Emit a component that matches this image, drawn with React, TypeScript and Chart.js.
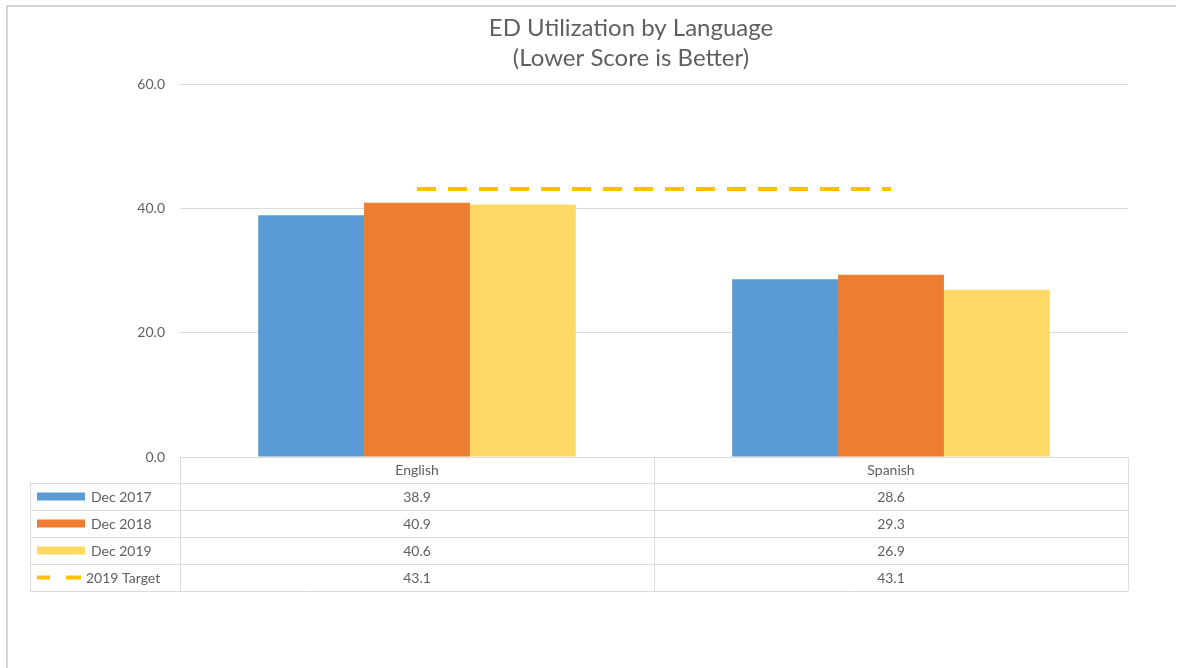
import React, { useEffect, useRef } from "react";
import { Chart, registerables } from "chart.js";

Chart.register(...registerables);

// Chart values
const categories = ["English", "Spanish"];
const dec2017 = [38.9, 28.6];
const dec2018 = [40.9, 29.3];
const dec2019 = [40.6, 26.9];
const target2019 = [43.1, 43.1];
const seriesNames = ["Dec 2017", "Dec 2018", "Dec 2019", "2019 Target"];
const titleLines = ["ED Utilization by Language", "(Lower Score is Better)"];
const yMin = 0;
const yMax = 60;
const yStep = 20;

const FONT = "Lato, 'Open Sans', sans-serif";
const TEXT = "#5f5f5f";
const RULE = "#dcdcdc";
const BLUE = "#5B9BD5";
const ORANGE = "#ED7D31";
const YELLOW = "#FFD966";
const GOLD = "#FFC000";

// Frame lines around the chart object
const framePlugin = {
  id: "frame",
  beforeDraw(chart: any) {
    const ctx = chart.ctx;
    ctx.save();
    ctx.fillStyle = "#ffffff";
    ctx.fillRect(0, 0, chart.width, chart.height);
    ctx.fillStyle = "#d4d4d4";
    ctx.fillRect(6, 5, chart.width - 11, 2);
    ctx.fillRect(6, 5, 2, chart.height - 5);
    ctx.restore();
  },
};

// Two-line title centred over the plot
const titlePlugin = {
  id: "twoLineTitle",
  afterDraw(chart: any) {
    const ctx = chart.ctx;
    ctx.save();
    ctx.fillStyle = TEXT;
    ctx.font = `24px ${FONT}`;
    ctx.textAlign = "center";
    ctx.textBaseline = "middle";
    titleLines.forEach((line, i) => ctx.fillText(line, 631, 28 + i * 30));
    ctx.restore();
  },
};

// Data table under the category axis, with legend keys in the first column
const dataTablePlugin = {
  id: "dataTable",
  afterDraw(chart: any) {
    const ctx = chart.ctx;
    const area = chart.chartArea;
    const xScale = chart.scales.x;
    const n = categories.length;
    const colW = (area.right - area.left) / n;
    const headerH = 26;
    const rowH = 27;
    const top = area.bottom;
    const rowsTop = top + headerH;
    const bottom = rowsTop + rowH * seriesNames.length;
    const legendLeft = 30;
    const rows = [dec2017, dec2018, dec2019, target2019];

    ctx.save();
    ctx.strokeStyle = RULE;
    ctx.lineWidth = 1;
    const hLine = (x1: number, x2: number, y: number) => {
      ctx.beginPath();
      ctx.moveTo(x1, Math.round(y) + 0.5);
      ctx.lineTo(x2, Math.round(y) + 0.5);
      ctx.stroke();
    };
    const vLine = (x: number, y1: number, y2: number) => {
      ctx.beginPath();
      ctx.moveTo(Math.round(x) + 0.5, y1);
      ctx.lineTo(Math.round(x) + 0.5, y2);
      ctx.stroke();
    };

    for (let i = 0; i <= seriesNames.length; i++) {
      hLine(legendLeft, area.right, rowsTop + i * rowH);
    }
    for (let c = 0; c <= n; c++) vLine(area.left + c * colW, top, bottom);
    vLine(legendLeft, rowsTop, bottom);

    ctx.fillStyle = TEXT;
    ctx.font = `14px ${FONT}`;
    ctx.textAlign = "center";
    ctx.textBaseline = "middle";
    categories.forEach((cat, c) => {
      const cx = xScale.getPixelForValue(c);
      ctx.fillText(cat, cx, top + headerH / 2);
      rows.forEach((vals, r) => {
        ctx.fillText(vals[c].toFixed(1), cx, rowsTop + r * rowH + rowH / 2 + 1);
      });
    });

    // Legend keys
    const keyColors = [BLUE, ORANGE, YELLOW];
    seriesNames.forEach((name, r) => {
      const cy = rowsTop + r * rowH + rowH / 2;
      if (r < keyColors.length) {
        ctx.fillStyle = keyColors[r];
        ctx.fillRect(37, cy - 4, 48, 8);
      } else {
        ctx.fillStyle = GOLD;
        ctx.fillRect(37, cy - 2, 13, 4);
        ctx.fillRect(66, cy - 2, 15, 4);
      }
      ctx.fillStyle = TEXT;
      ctx.textAlign = "left";
      ctx.fillText(name, r < keyColors.length ? 91 : 86, cy + 1);
    });
    ctx.restore();
  },
};

export default function App() {
  const canvasRef = useRef<HTMLCanvasElement | null>(null);

  useEffect(() => {
    if (!canvasRef.current) return;
    const barCommon = {
      type: "bar" as const,
      barPercentage: 1.0,
      categoryPercentage: 0.67,
      borderWidth: 0,
      order: 1,
    };
    const chart = new Chart(canvasRef.current, {
      type: "bar",
      data: {
        labels: categories,
        datasets: [
          { ...barCommon, label: seriesNames[0], data: dec2017, backgroundColor: BLUE },
          { ...barCommon, label: seriesNames[1], data: dec2018, backgroundColor: ORANGE },
          { ...barCommon, label: seriesNames[2], data: dec2019, backgroundColor: YELLOW },
          {
            type: "line" as const,
            label: seriesNames[3],
            data: target2019,
            borderColor: GOLD,
            borderWidth: 4,
            borderDash: [19, 12],
            pointRadius: 0,
            fill: false,
            order: 0,
          },
        ] as any,
      },
      options: {
        responsive: false,
        animation: false,
        layout: { padding: { left: 0, right: 53, top: 84, bottom: 211 } },
        plugins: {
          legend: { display: false },
          title: { display: false },
          tooltip: { enabled: false },
        },
        scales: {
          x: {
            grid: { display: false, drawTicks: false },
            border: { display: false },
            ticks: { display: false },
            afterFit: (s: any) => {
              s.height = 0;
            },
          },
          y: {
            min: yMin,
            max: yMax,
            grid: { color: RULE, lineWidth: 1, drawTicks: false },
            border: { display: false },
            ticks: {
              stepSize: yStep,
              padding: 15,
              color: TEXT,
              font: { family: FONT, size: 14 },
              callback: (v: any) => Number(v).toFixed(1),
            },
            afterFit: (s: any) => {
              s.width = 180;
            },
          },
        },
      },
      plugins: [framePlugin, titlePlugin, dataTablePlugin],
    });
    return () => chart.destroy();
  }, []);

  return (
    <div style={{ position: "fixed", left: 0, top: 0, width: 1181, height: 668, background: "#fff" }}>
      <canvas ref={canvasRef} width={1181} height={668} />
    </div>
  );
}
